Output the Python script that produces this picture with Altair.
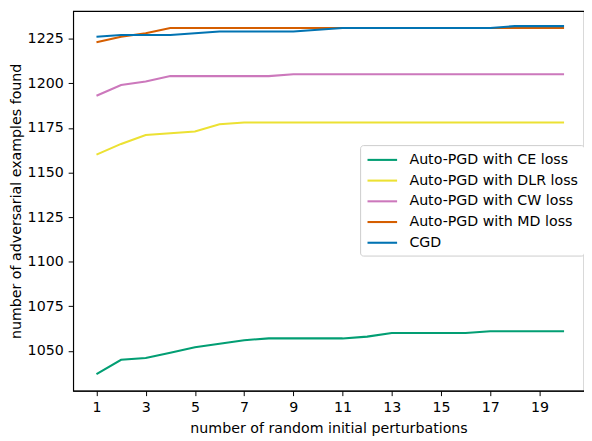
import altair as alt
import pandas as pd

x_vals = list(range(1, 21))
ce = [1037, 1045, 1046, 1049, 1052, 1054, 1056, 1057, 1057, 1057, 1057, 1058, 1060, 1060, 1060, 1060, 1061, 1061, 1061, 1061]
dlr = [1160, 1166, 1171, 1172, 1173, 1177, 1178, 1178, 1178, 1178, 1178, 1178, 1178, 1178, 1178, 1178, 1178, 1178, 1178, 1178]
cw = [1193, 1199, 1201, 1204, 1204, 1204, 1204, 1204, 1205, 1205, 1205, 1205, 1205, 1205, 1205, 1205, 1205, 1205, 1205, 1205]
md = [1223, 1226, 1228, 1231, 1231, 1231, 1231, 1231, 1231, 1231, 1231, 1231, 1231, 1231, 1231, 1231, 1231, 1231, 1231, 1231]
cgd = [1226, 1227, 1227, 1227, 1228, 1229, 1229, 1229, 1229, 1230, 1231, 1231, 1231, 1231, 1231, 1231, 1231, 1232, 1232, 1232]

names = ["Auto-PGD with CE loss", "Auto-PGD with DLR loss", "Auto-PGD with CW loss",
         "Auto-PGD with MD loss", "CGD"]
colors = ["#029e73", "#ece133", "#cc78bc", "#d55e00", "#0173b2"]
series = [ce, dlr, cw, md, cgd]

x_ticks = [1, 3, 5, 7, 9, 11, 13, 15, 17, 19]
y_ticks = [1050, 1075, 1100, 1125, 1150, 1175, 1200, 1225]

rows = []
for i, (n, s) in enumerate(zip(names, series)):
    for x, v in zip(x_vals, s):
        rows.append({"x": x, "y": v, "method": n, "order": i})
df = pd.DataFrame(rows)

FONT = "DejaVu Sans"
FS = 14.4

chart = alt.Chart(df).mark_line(strokeWidth=2.1, clip=True).encode(
    x=alt.X("x:Q", scale=alt.Scale(domain=[0.05, 20.81], nice=False, zero=False),
            axis=alt.Axis(values=x_ticks, title="number of random initial perturbations",
                          grid=False, tickSize=5, labelPadding=5, titlePadding=8,
                          domainColor="black", tickColor="black", labelColor="black",
                          titleColor="black", labelFontSize=FS, titleFontSize=FS,
                          labelFont=FONT, titleFont=FONT, titleFontWeight="normal",
                          labelFlush=False, format="d")),
    y=alt.Y("y:Q", scale=alt.Scale(domain=[1027.7, 1240.5], nice=False, zero=False),
            axis=alt.Axis(values=y_ticks, title="number of adversarial examples found",
                          grid=False, tickSize=5, labelPadding=5, titlePadding=4,
                          domainColor="black", tickColor="black", labelColor="black",
                          titleColor="black", labelFontSize=FS, titleFontSize=FS,
                          labelFont=FONT, titleFont=FONT, titleFontWeight="normal",
                          labelFlush=False, format="d")),
    color=alt.Color("method:N",
                    scale=alt.Scale(domain=names, range=colors),
                    sort=names,
                    legend=alt.Legend(title=None, orient="none", legendX=291, legendY=136,
                                      symbolType="M-1,0L3,0", symbolSize=225,
                                      symbolStrokeWidth=2.1,
                                      labelFont=FONT, labelFontSize=FS, labelColor="black",
                                      padding=6, rowPadding=5, strokeColor="#cccccc",
                                      fillColor="white", cornerRadius=3,
                                      labelOffset=26, labelLimit=300)),
    order=alt.Order("order:Q"),
    detail="method:N",
).properties(
    width=518, height=385,
    background="white",
    autosize=alt.AutoSizeParams(type="none"),
    padding={"left": 66, "top": 0, "right": 0, "bottom": 48},
).configure_view(stroke="black", strokeWidth=1.1)

chart.save("out.html", embed_options={"renderer": "svg", "actions": False})
